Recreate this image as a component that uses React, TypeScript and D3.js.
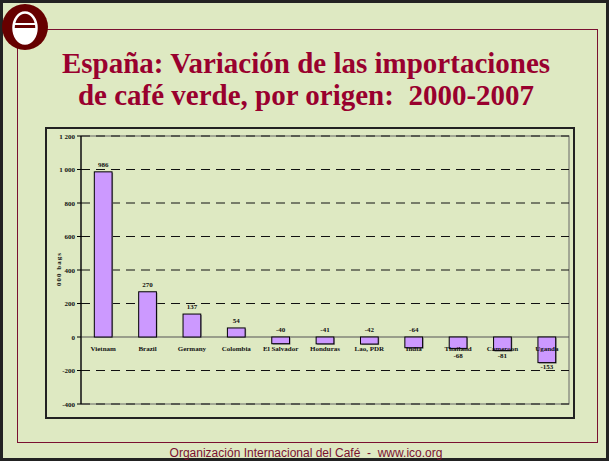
import React from "react";
import * as d3 from "d3";

const categories = ["Vietnam", "Brazil", "Germany", "Colombia", "El Salvador", "Honduras", "Lao, PDR", "India", "Thailand", "Cameroon", "Uganda"];
const values = [986, 270, 137, 54, -40, -41, -42, -64, -68, -81, -153];
const yTicks = [-400, -200, 0, 200, 400, 600, 800, 1000, 1200];
const titleLines = ["España: Variación de las importaciones", "de café verde, por origen:  2000-2007"];
const footer = "Organización Internacional del Café  -  www.ico.org";

const W = 609;
const H = 461;
const plot = { left: 81, right: 569, top: 136, bottom: 404 };
const serif = "'Liberation Serif', 'Times New Roman', serif";
const maroon = "#99002E";

const fmt = (v: number) => (Math.abs(v) >= 1000 ? d3.format(",")(v).replace(",", " ") : String(v));

const App = () => {
  const x = d3.scaleBand<string>()
    .domain(categories)
    .range([plot.left, plot.right])
    .paddingInner(0.6)
    .paddingOuter(0.3);

  const y = d3.scaleLinear()
    .domain([-400, 1200])
    .range([plot.bottom, plot.top]);

  const bw = x.bandwidth();

  return (
    <>
      <style>{"body{margin:0}"}</style>
      <svg width={W} height={H} style={{ display: "block" }}>
        <rect x={0} y={0} width={W} height={H} fill="#DEE9C2" />
        <rect x={1.5} y={1.5} width={W - 3} height={H - 3} fill="none" stroke="#222" strokeWidth={3} />
        {/* maroon frame */}
        <rect x={17.5} y={29.5} width={580} height={413} fill="none" stroke="#7A1030" strokeWidth={1} />

        {/* logo */}
        <circle cx={25} cy={27} r={23} fill="#660000" />
        <path d="M13.5,28 A11.5,15.5 0 0,0 36.5,28 Z" fill="#fff" />
        <ellipse cx={25} cy={28} rx={11.5} ry={15.5} fill="none" stroke="#fff" strokeWidth={2.5} />
        <line x1={13} x2={37} y1={24} y2={24} stroke="#fff" strokeWidth={2} />

        {/* title */}
        {titleLines.map((t, i) => (
          <text key={i} x={306} y={73 + i * 32} textAnchor="middle" fontFamily={serif} fontWeight="bold" fontSize={29} fill={maroon} style={{ whiteSpace: "pre" }}>
            {t}
          </text>
        ))}

        {/* chart box */}
        <rect x={46} y={128} width={528} height={290} fill="none" stroke="#222" strokeWidth={2} />

        {/* plot border */}
        <rect x={plot.left} y={plot.top} width={plot.right - plot.left} height={plot.bottom - plot.top} fill="none" stroke="#666" strokeWidth={1} />

        {/* grid */}
        {yTicks.filter(t => t !== 0).map(t => (
          <line key={t} x1={plot.left} x2={plot.right} y1={y(t)} y2={y(t)} stroke="#111" strokeWidth={1} strokeDasharray="9,6" />
        ))}
        <line x1={plot.left} x2={plot.right} y1={y(0)} y2={y(0)} stroke="#555" strokeWidth={1.2} />

        {/* y axis */}
        <line x1={plot.left} x2={plot.left} y1={plot.top} y2={plot.bottom} stroke="#000" strokeWidth={1.2} />
        {yTicks.map(t => (
          <g key={t} transform={`translate(${plot.left},${y(t)})`}>
            <line x1={-4} x2={0} stroke="#000" strokeWidth={1} />
            <text x={-6} y={2.5} textAnchor="end" fontFamily={serif} fontWeight="bold" fontSize={7} fill="#111">
              {fmt(t)}
            </text>
          </g>
        ))}
        <text transform={`translate(60.5,269) rotate(-90)`} textAnchor="middle" fontFamily={serif} fontWeight="bold" fontSize={7} letterSpacing={1} fill="#111">
          000 bags
        </text>

        {/* bars */}
        {categories.map((c, i) => {
          const v = values[i];
          const x0 = x(c) || 0;
          const top = y(Math.max(v, 0));
          const h = Math.abs(y(v) - y(0));
          const cx = x0 + bw / 2;
          // small negatives get their label above the zero line, like the original
          const above = v >= 0 || v > -65;
          const ly = v >= 0 ? top - 5 : above ? y(0) - 5 : Math.max(y(v) + 6, y(0) + 20.5);
          return (
            <g key={c}>
              <rect x={x0 + 1} y={top + 1} width={bw} height={h} fill="#888" />
              <rect x={x0} y={top} width={bw} height={h} fill="#CC99FF" stroke="#000" strokeWidth={1} />
              <text x={cx} y={ly} textAnchor="middle" fontFamily={serif} fontWeight="bold" fontSize={7} fill="#111">
                {v}
              </text>
              <text x={cx} y={y(0) + 14} textAnchor="middle" fontFamily={serif} fontWeight="bold" fontSize={7} fill="#111">
                {c}
              </text>
            </g>
          );
        })}

        {/* footer */}
        <text x={306} y={457} textAnchor="middle" fontFamily="'Liberation Sans', Arial, sans-serif" fontSize={12} fill="#7A1030" style={{ whiteSpace: "pre" }}>
          {footer}
        </text>
      </svg>
    </>
  );
};

export default App;
